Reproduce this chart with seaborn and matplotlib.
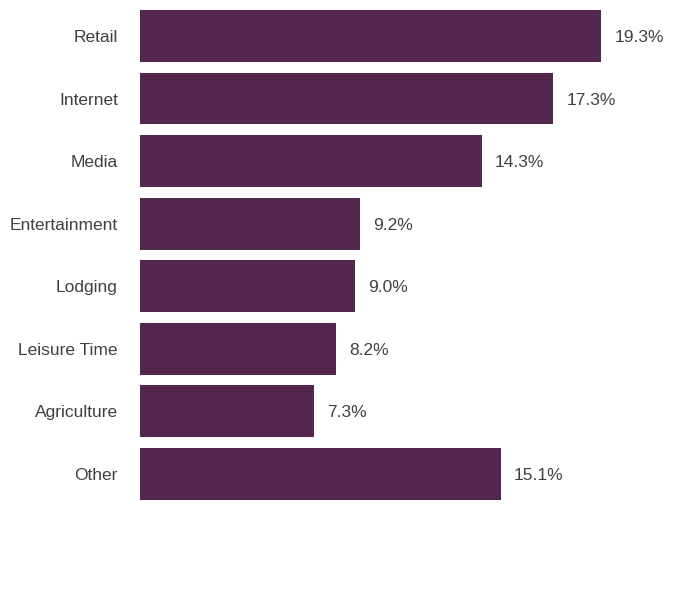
import matplotlib
matplotlib.use("Agg")
import matplotlib.pyplot as plt
import seaborn as sns
import pandas as pd

categories = ["Retail", "Internet", "Media", "Entertainment", "Lodging", "Leisure Time", "Agriculture", "Other"]
values = [19.3, 17.3, 14.3, 9.2, 9.0, 8.2, 7.3, 15.1]
labels = ["19.3%", "17.3%", "14.3%", "9.2%", "9.0%", "8.2%", "7.3%", "15.1%"]

df = pd.DataFrame({"category": categories, "value": values})

sns.set_style("white")
plt.rcParams["font.family"] = ["Liberation Sans", "DejaVu Sans"]

W, H = 696, 600
fig = plt.figure(figsize=(W / 100, H / 100), dpi=100)
left, right = 140, 690
top, bottom = 4.7, 505
ax = fig.add_axes([left / W, 1 - bottom / H, (right - left) / W, (bottom - top) / H])

sns.barplot(data=df, y="category", x="value", orient="h", color="#54284E",
            saturation=1, width=0.83, ax=ax, linewidth=0)

ax.set_xlim(0, (right - left) / 23.886)
ax.set_ylim(7.5, -0.5)
for i, (v, lab) in enumerate(zip(values, labels)):
    ax.text(v + 0.55, i, lab, va="center_baseline", ha="left", fontsize=12.5, color="#404040")

ax.set_xlabel("")
ax.set_ylabel("")
ax.set_xticks([])
ax.tick_params(axis="y", length=0, pad=16, labelsize=12.5, labelcolor="#404040")
for t in ax.get_yticklabels():
    t.set_verticalalignment("center_baseline")
for s in ax.spines.values():
    s.set_visible(False)

fig.savefig("out.png", dpi=100, facecolor="white")
